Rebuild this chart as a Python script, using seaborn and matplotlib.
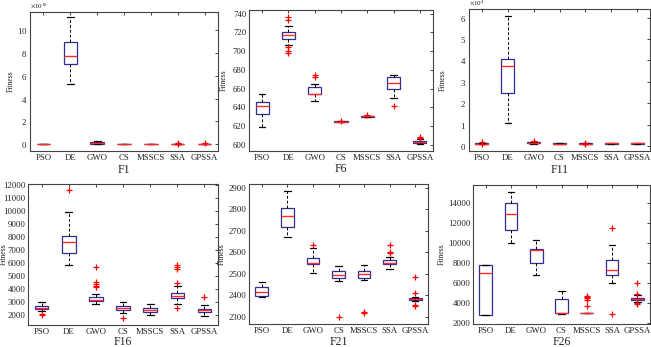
import matplotlib
matplotlib.use("Agg")
import matplotlib.pyplot as plt
import seaborn as sns
import pandas as pd

ALGOS = ["PSO", "DE", "GWO", "CS", "MSSCS", "SSA", "GPSSA"]

# ---- F1 (values in units of 1e10) ----
F1_LO  = [0.000, 5.25, 0.00, 0.000, 0.000, 0.000, 0.000]
F1_Q1  = [0.005, 7.00, 0.05, 0.005, 0.005, 0.005, 0.005]
F1_MED = [0.010, 7.75, 0.10, 0.010, 0.010, 0.010, 0.010]
F1_Q3  = [0.015, 8.95, 0.15, 0.015, 0.015, 0.015, 0.015]
F1_HI  = [0.020, 11.15, 0.25, 0.020, 0.020, 0.020, 0.020]
F1_OUT = {"SSA": [0.05, 0.08], "GPSSA": [0.06]}
F1_SCALE = 1e10

# ---- F6 ----
F6_LO  = [619, 707, 647, 624.2, 630.0, 650, 601]
F6_Q1  = [633, 713, 654, 624.6, 630.3, 660, 602]
F6_MED = [641, 717, 654, 624.9, 630.5, 666, 603]
F6_Q3  = [645.5, 720, 662, 625.2, 630.7, 673, 604]
F6_HI  = [654, 727, 664.5, 625.5, 631.0, 675, 606]
F6_OUT = {"DE": [733, 736, 698, 700, 704], "GWO": [673, 675],
          "CS": [626], "MSSCS": [631.5], "SSA": [642], "GPSSA": [607.5, 608]}

# ---- F11 (values in units of 1e4) ----
F11_LO  = [0.10, 1.10, 0.12, 0.10, 0.10, 0.11, 0.11]
F11_Q1  = [0.11, 2.50, 0.14, 0.11, 0.11, 0.12, 0.12]
F11_MED = [0.12, 3.75, 0.15, 0.12, 0.12, 0.13, 0.13]
F11_Q3  = [0.13, 4.08, 0.17, 0.13, 0.13, 0.14, 0.14]
F11_HI  = [0.14, 6.05, 0.19, 0.14, 0.14, 0.15, 0.15]
F11_OUT = {"PSO": [0.17, 0.08], "GWO": [0.24], "MSSCS": [0.16, 0.08]}
F11_SCALE = 1e4

# ---- F16 ----
F16_LO  = [2290, 5800, 2850, 2100, 2000, 2800, 1900]
F16_Q1  = [2420, 6750, 3050, 2360, 2200, 3250, 2200]
F16_MED = [2540, 7600, 3150, 2515, 2350, 3450, 2350]
F16_Q3  = [2680, 8050, 3400, 2670, 2500, 3700, 2450]
F16_HI  = [2960, 9900, 3600, 2960, 2800, 4200, 2750]
F16_OUT = {"PSO": [1990, 2020], "DE": [11600], "GWO": [4100, 4200, 4400, 4550, 5650],
           "CS": [1750], "SSA": [2500, 4450, 5500, 5650, 5800], "GPSSA": [3350]}

# ---- F21 ----
F21_LO  = [2390, 2672, 2505, 2468, 2472, 2520, 2372]
F21_Q1  = [2398, 2718, 2543, 2482, 2482, 2543, 2376]
F21_MED = [2415, 2768, 2550, 2493, 2500, 2548, 2381]
F21_Q3  = [2438, 2808, 2575, 2512, 2513, 2562, 2388]
F21_HI  = [2460, 2887, 2620, 2538, 2540, 2578, 2393]
F21_OUT = {"GWO": [2632], "CS": [2297], "MSSCS": [2318, 2322],
           "SSA": [2595, 2602, 2632], "GPSSA": [2350, 2355, 2408, 2486]}

# ---- F26 ----
F26_LO  = [2800, 10000, 6800, 2900, 3000, 6000, 4100]
F26_Q1  = [2850, 11250, 8050, 3000, 3000, 6800, 4350]
F26_MED = [7000, 12850, 9300, 3000, 3000, 7300, 4400]
F26_Q3  = [7800, 14000, 9400, 4450, 3000, 8300, 4550]
F26_HI  = [7850, 15100, 10250, 5200, 3000, 9800, 4800]
F26_OUT = {"MSSCS": [3700, 4300, 4500, 4650, 4750], "SSA": [11500, 2900],
           "GPSSA": [3950, 4000, 4950, 6050]}

BOX_BLUE = "#2e2e96"
MED_RED = "#ff2a2a"

sns.set_theme(style="white")
plt.rcParams["font.family"] = ["Liberation Serif", "DejaVu Serif"]
plt.rcParams["mathtext.fontset"] = "stix"

fig = plt.figure(figsize=(6.51, 3.47), dpi=100)

W, H = 651.0, 347.0
def axes_px(left, top, right, bottom):
    return fig.add_axes([left / W, 1 - bottom / H, (right - left) / W, (bottom - top) / H])

panels = [
    ("F1", F1_LO, F1_Q1, F1_MED, F1_Q3, F1_HI, F1_OUT, F1_SCALE, 10, (30, 12, 218, 151), (-0.6e10, 11.6e10), [0, 2e10, 4e10, 6e10, 8e10, 10e10], 12, 173),
    ("F6", F6_LO, F6_Q1, F6_MED, F6_Q3, F6_HI, F6_OUT, 1, 0, (249, 10, 433, 151), (593.5, 744), list(range(600, 741, 20)), 225, 172),
    ("F11", F11_LO, F11_Q1, F11_MED, F11_Q3, F11_HI, F11_OUT, F11_SCALE, 4, (469, 9, 650, 151), (-0.23e4, 6.4e4), [0, 1e4, 2e4, 3e4, 4e4, 5e4, 6e4], 444, 173),
    ("F16", F16_LO, F16_Q1, F16_MED, F16_Q3, F16_HI, F16_OUT, 1, 0, (28, 184, 218, 325), (1200, 12100), list(range(2000, 12001, 1000)), 5, 345),
    ("F21", F21_LO, F21_Q1, F21_MED, F21_Q3, F21_HI, F21_OUT, 1, 0, (249, 184, 428, 324), (2265, 2919), list(range(2300, 2901, 100)), 223, 345),
    ("F26", F26_LO, F26_Q1, F26_MED, F26_Q3, F26_HI, F26_OUT, 1, 0, (473, 185, 650, 324), (1950, 15750), list(range(2000, 14001, 2000)), 443, 345),
]

for name, lo, q1, med, q3, hi, outs, scale, expo, box, ylim, yticks, ylab_x, xlab_base in panels:
    ax = axes_px(*box)
    rows = []
    for i, a in enumerate(ALGOS):
        for v in (lo[i], q1[i], med[i], q3[i], hi[i]):
            rows.append({"algo": a, "value": v * scale})
    df = pd.DataFrame(rows)
    orows = [{"algo": a, "value": v * scale} for a, vals in outs.items() for v in vals]
    odf = pd.DataFrame(orows, columns=["algo", "value"])

    sns.boxplot(data=df, x="algo", y="value", order=ALGOS, whis=(0, 100),
                width=0.5, fill=True, color="white", linecolor=BOX_BLUE,
                linewidth=0.9, showfliers=False, ax=ax,
                boxprops=dict(facecolor="none", edgecolor=BOX_BLUE, linewidth=0.9),
                medianprops=dict(color=MED_RED, linewidth=1.0),
                whiskerprops=dict(color="black", linestyle=(0, (3, 2)), linewidth=0.7),
                capprops=dict(color="black", linewidth=0.9))
    if len(odf):
        sns.stripplot(data=odf, x="algo", y="value", order=ALGOS, jitter=False,
                      marker="+", color="red", edgecolor="red", size=4.5,
                      linewidth=0.9, ax=ax, zorder=5)

    ax.set_xlim(-0.5, 6.5)
    ax.set_ylim(*ylim)
    ax.set_yticks(yticks)
    if expo:
        ax.ticklabel_format(axis="y", style="sci", scilimits=(expo, expo), useMathText=True)
        ax.yaxis.get_offset_text().set_fontsize(5)
    ax.tick_params(axis="both", direction="in", top=True, right=True, length=2,
                   width=0.6, labelsize=6.3, pad=2, colors="#222222")
    for s in ax.spines.values():
        s.set_color("#444444")
        s.set_linewidth(0.8)
    ax.set_xlabel(name, fontsize=8.5, color="#222222", va="baseline")
    ax.set_ylabel("Fitness", fontsize=5.5, color="#222222")
    axw = box[2] - box[0]
    axh = box[3] - box[1]
    ax.yaxis.set_label_coords((ylab_x + 3 - box[0]) / axw, 0.5)
    ax.xaxis.set_label_coords(0.5, -((xlab_base - box[3]) / axh))

fig.savefig("out.png", dpi=100)
